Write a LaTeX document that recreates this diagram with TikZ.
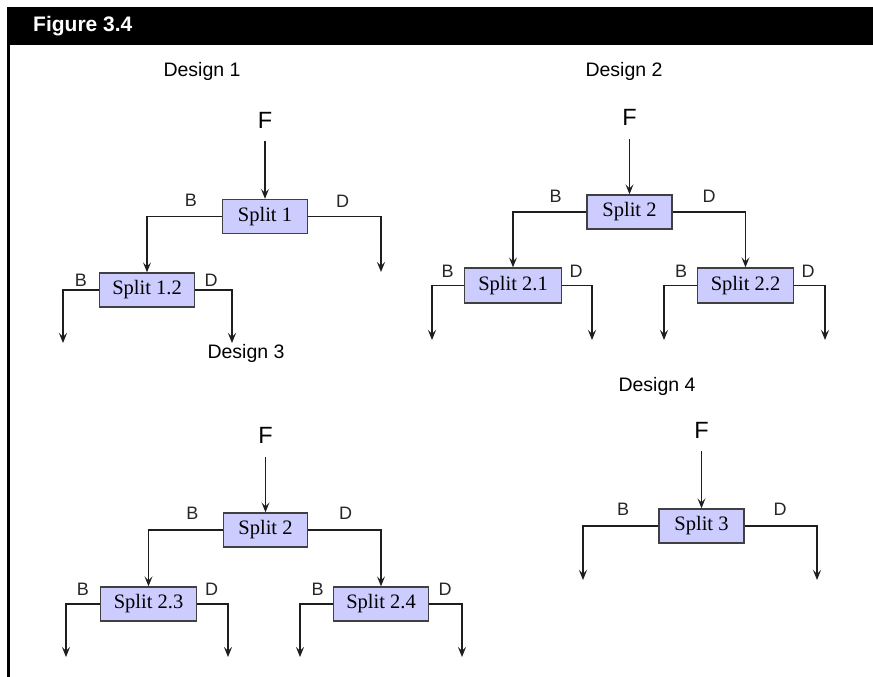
\documentclass[tikz,border=0pt]{standalone}
\usepackage{fontspec}
\setmainfont{Liberation Serif}
\newfontfamily\arialf{Liberation Sans}
\usetikzlibrary{arrows.meta}
\definecolor{boxfill}{HTML}{CCCCFF}
\definecolor{boxborder}{HTML}{404040}
\definecolor{linecol}{HTML}{1E1E1E}
\definecolor{labelgray}{HTML}{262626}
\begin{document}
\begin{tikzpicture}[x=1pt,y=-1pt,
  splitbox/.style={draw=boxborder, fill=boxfill, line width=1.4pt, minimum width=85pt, minimum height=34pt, inner sep=0pt, font=\fontsize{20.5}{24}\selectfont},
  lbl/.style={inner sep=0pt, font=\arialf\fontsize{18}{21}\selectfont, text=labelgray},
  feed/.style={inner sep=0pt, font=\arialf\fontsize{23.5}{27}\selectfont},
  dlabel/.style={inner sep=0pt, anchor=base, font=\arialf\fontsize{19.5}{23}\selectfont},
  flow/.style={draw=linecol, line width=1.2pt, -{Stealth[length=10pt,width=8pt,inset=4pt]}},
  feedflow/.style={flow, shorten <=13pt},
]
\useasboundingbox (0,0) rectangle (873,677);
% header
\fill[black] (7,7) rectangle (873,45);
\fill[black] (7,45) rectangle (10,677);
\node[inner sep=0pt, anchor=base west, text=white, font=\arialf\bfseries\fontsize{21}{24}\selectfont] (title) at (33,32) {Figure 3.4};

% ---------------- Design 1
\node[dlabel] (d1) at (202,77) {Design 1};
\node[feed] (F1) at (265,120) {F};
\node[splitbox] (S1) at (265,216.5) {Split 1};
\node[lbl] (S1B) at (191,200.5) {B};
\node[lbl] (S1D) at (342.5,201) {D};
\node[splitbox, minimum width=95pt] (S12) at (147,290) {Split 1.2};
\node[lbl] (S12B) at (81,280) {B};
\node[lbl] (S12D) at (211,280) {D};
\coordinate (e11) at (381,272);
\coordinate (e12) at (63,343);
\coordinate (e13) at (232,343);
\draw[feedflow] (F1.south) -- (S1.north);
\draw[flow] (S1.west) -| (S12.north);
\draw[flow] (S1.east) -| (e11);
\draw[flow] (S12.west) -| (e12);
\draw[flow] (S12.east) -| (e13);

% ---------------- Design 2
\node[dlabel] (d2) at (624,77) {Design 2};
\node[feed] (F2) at (629.5,117.5) {F};
\node[splitbox] (S2) at (629.5,212) {Split 2};
\node[lbl] (S2B) at (555.5,196) {B};
\node[lbl] (S2D) at (709,196) {D};
\node[splitbox, minimum width=97pt, minimum height=35pt] (S21) at (513,285.5) {Split 2.1};
\node[lbl] (S21B) at (447.5,271) {B};
\node[lbl] (S21D) at (576,271) {D};
\node[splitbox, minimum width=96pt, minimum height=35pt] (S22) at (745.5,285.5) {Split 2.2};
\node[lbl] (S22B) at (681,271) {B};
\node[lbl] (S22D) at (808,271) {D};
\coordinate (e21) at (432,340);
\coordinate (e22) at (592,340);
\coordinate (e23) at (664,340);
\coordinate (e24) at (825,340);
\draw[feedflow] (F2.south) -- (S2.north);
\draw[flow] (S2.west) -| (S21.north);
\draw[flow] (S2.east) -| (S22.north);
\draw[flow] (S21.west) -| (e21);
\draw[flow] (S21.east) -| (e22);
\draw[flow] (S22.west) -| (e23);
\draw[flow] (S22.east) -| (e24);

% ---------------- Design 3
\node[dlabel] (d3) at (246,358) {Design 3};
\node[feed] (F3) at (265.5,435.5) {F};
\node[splitbox, minimum width=84pt] (S3a) at (265.5,530) {Split 2};
\node[lbl] (S3aB) at (192.5,513) {B};
\node[lbl] (S3aD) at (345.5,513) {D};
\node[splitbox, minimum width=96pt] (S23) at (148.5,604) {Split 2.3};
\node[lbl] (S23B) at (83,589) {B};
\node[lbl] (S23D) at (211.5,589) {D};
\node[splitbox, minimum width=95pt] (S24) at (381,604) {Split 2.4};
\node[lbl] (S24B) at (317.5,589) {B};
\node[lbl] (S24D) at (445,589) {D};
\coordinate (e31) at (66,657);
\coordinate (e32) at (228,657);
\coordinate (e33) at (300,657);
\coordinate (e34) at (462,657);
\draw[feedflow] (F3.south) -- (S3a.north);
\draw[flow] (S3a.west) -| (S23.north);
\draw[flow] (S3a.east) -| (S24.north);
\draw[flow] (S23.west) -| (e31);
\draw[flow] (S23.east) -| (e32);
\draw[flow] (S24.west) -| (e33);
\draw[flow] (S24.east) -| (e34);

% ---------------- Design 4
\node[dlabel] (d4) at (657,391) {Design 4};
\node[feed] (F4) at (701.5,430) {F};
\node[splitbox] (S3) at (701.5,526) {Split 3};
\node[lbl] (S3B) at (623,509.5) {B};
\node[lbl] (S3D) at (780,509.5) {D};
\coordinate (e41) at (583,580);
\coordinate (e42) at (817,580);
\draw[feedflow] (F4.south) -- (S3.north);
\draw[flow] (S3.west) -| (e41);
\draw[flow] (S3.east) -| (e42);
\end{tikzpicture}
\end{document}
